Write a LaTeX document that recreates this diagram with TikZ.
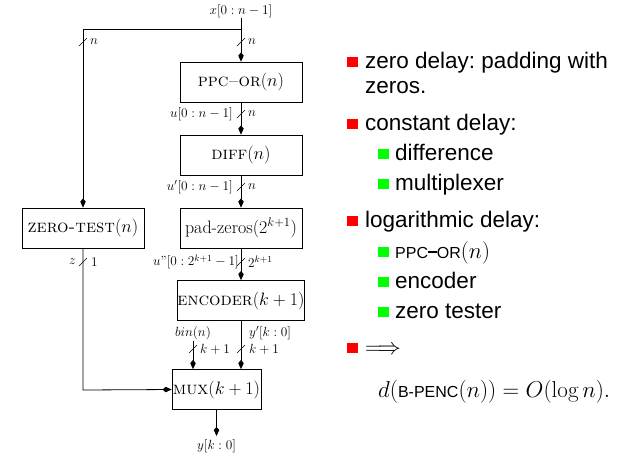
\RequirePackage{fix-cm}
\documentclass[tikz,border=0pt]{standalone}
\usepackage{fontspec}
\setsansfont{Liberation Sans}
\usetikzlibrary{arrows.meta}
\definecolor{bred}{RGB}{255,0,0}
\definecolor{bgreen}{RGB}{0,255,0}
\frenchspacing
\newcommand{\lblf}{\fontsize{13.3}{16}\selectfont}
\newcommand{\boxf}{\fontsize{18}{21}\selectfont}
\newcommand{\txtf}{\fontsize{22.5}{27}\selectfont\sffamily}
\newcommand{\mathf}{\fontsize{23}{28}\selectfont}
\newcommand{\smallcapsf}{\fontsize{16}{19}\selectfont\sffamily}
\begin{document}
\begin{tikzpicture}[x=1pt,y=-1pt,
  blk/.style={draw,line width=0.8pt,minimum width=122pt,minimum height=40pt,inner sep=0pt,font=\boxf},
  wire/.style={line width=0.8pt},
  arr/.style={line width=0.8pt,-{Kite[length=9pt,width=5.5pt,inset=3pt]}},
  lbl/.style={font=\lblf,inner sep=0pt},
  bus/.style={line width=0.6pt},
  rbul/.style={fill=bred,draw=none,minimum width=11pt,minimum height=10pt,inner sep=0pt},
  gbul/.style={fill=bgreen,draw=none,minimum width=11pt,minimum height=10pt,inner sep=0pt},
  rtxt/.style={anchor=base west,inner sep=0pt,font=\txtf}]
\useasboundingbox (0,0) rectangle (632,459);
% boxes
\node[blk] (ppc) at (241,82) {\textsc{ppc--or}$(n)$};
\node[blk] (diff) at (241,155) {\textsc{diff}$(n)$};
\node[blk] (pad) at (241,228) {pad-zeros$(2^{k+1})$};
\node[blk] (zt) at (83,228) {\textsc{zero-test}$(n)$};
\node[blk] (enc) at (241,300.5) {\textsc{encoder}$(k+1)$};
\node[blk,minimum width=89pt] (mux) at (216.5,389.5) {\textsc{mux}$(k+1)$};
% coordinates
\coordinate (xin) at (241,18);
\coordinate (jn) at (241,29);
\coordinate (lc) at (83,29);
\coordinate (bl) at (83,390);
\coordinate (binst) at (193,341);
\coordinate (yout) at (216.5,436);
% labels
\node[lbl,anchor=south] (xl) at (241,18) {$x[0:n-1]$};
\node[lbl,anchor=north] (yl) at (216.5,439) {$y[k:0]$};
% wires
\draw[wire] (xin) -- (jn) -- (lc);
\draw[arr] (jn) -- (ppc.north);
\draw[arr] (lc) -- (zt.north);
\draw[arr] (ppc.south) -- (diff.north);
\draw[arr] (diff.south) -- (pad.north);
\draw[arr] (pad.south) -- (enc.north);
\draw[arr] (enc.south) -- (enc.south |- mux.north);
\draw[arr] (binst) -- (binst |- mux.north);
\draw[arr] (zt.south) -- (bl) -- (mux.west);
\draw[arr] (mux.south) -- (yout);
% bus slashes
\foreach \xx/\yy in {241/42,83/42,241/114,241/187,83/262,241/262,193/349,241/349}
  \draw[bus] (\xx-4,\yy+4) -- (\xx+4,\yy-4);
% bus labels
\node[lbl,anchor=west] (n1) at (248,42) {$n$};
\node[lbl,anchor=west] (n2) at (90,42) {$n$};
\node[lbl,anchor=west] (n3) at (248,114) {$n$};
\node[lbl,anchor=west] (n4) at (248,187) {$n$};
\node[lbl,anchor=east] (ul) at (233,114) {$u[0:n-1]$};
\node[lbl,anchor=east] (upl) at (233,187) {$u'[0:n-1]$};
\node[lbl,anchor=east] (zl) at (76,262) {$z$};
\node[lbl,anchor=west] (one) at (91,262) {$1$};
\node[lbl,anchor=east] (uppl) at (239,262) {$u"[0:2^{k+1}-1]$};
\node[lbl,anchor=west] (kk) at (248,262) {$2^{k+1}$};
\node[lbl] (binl) at (193,333) {$bin(n)$};
\node[lbl,anchor=west] (ypl) at (249,333) {$y'[k:0]$};
\node[lbl,anchor=west] (k1) at (200,349) {$k+1$};
\node[lbl,anchor=west] (k2) at (249,349) {$k+1$};
% right text
\node[rbul] (b1) at (352.5,62) {};
\node[rtxt] (t1) at (365,68) {zero delay: padding with};
\node[rtxt] (t1b) at (365,93) {zeros.};
\node[rbul] (b2) at (352.5,124) {};
\node[rtxt] (t2) at (365,130) {constant delay:};
\node[gbul] (g1) at (383,154) {};
\node[rtxt] (t21) at (395,160) {difference};
\node[gbul] (g2) at (383,184) {};
\node[rtxt] (t22) at (395,190) {multiplexer};
\node[rbul] (b3) at (352.5,221) {};
\node[rtxt] (t3) at (365,227) {logarithmic delay:};
\node[gbul] (g3) at (383,252) {};
\node[rtxt] (t31) at (395,258) {{\smallcapsf PPC\rule[0.33em]{0.55em}{0.09em}OR}$(n)$};
\node[gbul] (g4) at (383,282) {};
\node[rtxt] (t32) at (395,288) {encoder};
\node[gbul] (g5) at (383,312) {};
\node[rtxt] (t33) at (395,318) {zero tester};
\node[rbul] (b4) at (352.5,348) {};
\node[rtxt,font=\mathf] (t4) at (365,354) {$\Longrightarrow$};
\node[rtxt,font=\mathf] (t5) at (378,397) {$d(\mbox{\smallcapsf B-PENC}(n)) = O(\log n).$};
\end{tikzpicture}
\end{document}
